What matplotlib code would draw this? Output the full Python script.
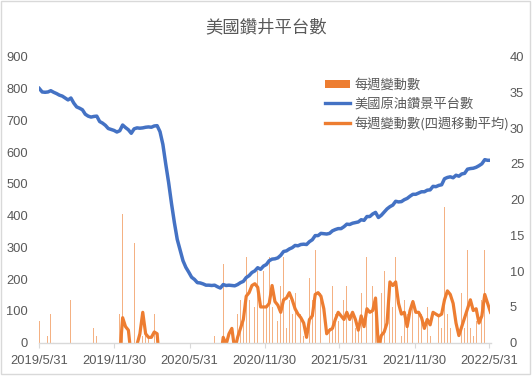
import matplotlib
matplotlib.use('Agg')
import matplotlib.pyplot as plt
import matplotlib.dates as mdates
import numpy as np
from matplotlib.patches import Patch, Rectangle
from matplotlib.lines import Line2D

# ---------------- data ----------------
first_week = '2019-05-31'
n_weeks = 158

rig_count = [800, 789, 788, 789, 793, 788, 784, 779, 776, 770,
             764, 770, 754, 742, 738, 733, 719, 713, 710, 712,
             713, 696, 691, 684, 674, 671, 668, 663, 667, 685,
             677, 670, 659, 673, 676, 675, 676, 678, 679, 678,
             682, 683, 664, 624, 562, 504, 438, 378, 325, 292,
             258, 237, 222, 206, 199, 189, 188, 185, 181, 181,
             180, 181, 176, 172, 183, 180, 181, 180, 179, 183,
             189, 193, 205, 211, 221, 226, 236, 231, 241, 246,
             258, 263, 264, 267, 275, 287, 289, 295, 299, 306,
             305, 309, 310, 309, 318, 324, 337, 337, 344, 343,
             342, 344, 352, 356, 359, 359, 365, 373, 372, 376,
             378, 380, 387, 385, 397, 397, 405, 410, 394, 401,
             411, 421, 428, 433, 445, 443, 444, 450, 454, 461,
             467, 467, 471, 475, 475, 480, 481, 492, 491, 495,
             497, 516, 520, 522, 519, 527, 524, 531, 533, 546,
             548, 549, 552, 557, 563, 576, 574, 574]

weekly_change = [3, -11, -1, 1, 4, -5, -4, -5, -3, -6,
                 -6, 6, -16, -12, -4, -5, -14, -6, -3, 2,
                 1, -17, -5, -7, -10, -3, -3, -5, 4, 18,
                 -8, -7, -11, 14, 3, -1, 1, 2, 1, -1,
                 4, 1, -19, -40, -62, -58, -66, -60, -53, -33,
                 -34, -21, -15, -16, -7, -10, -1, -3, -4, 0,
                 -1, 1, -5, -4, 11, -3, 1, -1, -1, 4,
                 6, 4, 12, 6, 10, 5, 10, -5, 10, 5,
                 12, 5, 1, 3, 8, 12, 2, 6, 4, 7,
                 -1, 4, 1, -1, 9, 6, 13, 0, 7, -1,
                 -1, 2, 8, 4, 3, 0, 6, 8, -1, 4,
                 2, 2, 7, -2, 12, 0, 8, 5, -16, 7,
                 10, 10, 7, 5, 12, -2, 1, 6, 4, 7,
                 6, 0, 4, 4, 0, 5, 1, 11, -1, 4,
                 2, 19, 4, 2, -3, 8, -3, 7, 2, 13,
                 2, 1, 3, 5, 6, 13, -2, 0]

change_ma4 = [-1.25, -4, -3.5, -2, -1.75, -0.25, -1, -2.5, -4.25, -4.5,
              -5, -2.25, -5.5, -7, -6.5, -9.25, -8.75, -7.25, -7, -5.25,
              -1.5, -4.25, -4.75, -7, -9.75, -6.25, -5.75, -5.25, -1.75, 3.5,
              2.25, 1.75, -2, -3, -0.25, 1.25, 4.25, 1.25, 0.75, 0.75,
              1.5, 1.25, -3.75, -13.5, -30, -44.75, -56.5, -61.5, -59.25, -53,
              -45, -35.25, -25.75, -21.5, -14.75, -12, -8.5, -5.25, -4.5, -2,
              -2, -1, -1.25, -2.25, 0.75, -0.25, 1.25, 2, -1, 0.75,
              2, 3.25, 6.5, 7, 8, 8.25, 7.75, 5, 5, 5,
              5.5, 8, 5.75, 5.25, 4.25, 6, 6.25, 7, 6, 4.75,
              4, 3.5, 2.75, 0.75, 3.25, 3.75, 6.75, 7, 6.5, 4.75,
              1.25, 1.75, 2, 3.25, 4.25, 3.75, 3.25, 4.25, 3.25, 4.25,
              3.25, 1.75, 3.75, 2.25, 4.75, 4.25, 4.5, 6.25, -0.75, 1,
              1.5, 2.75, 8.5, 8, 8.5, 5.5, 4, 4.25, 2.25, 4.5,
              5.75, 4.25, 4.25, 3.5, 2, 3.25, 2.5, 4.25, 4, 3.75,
              4, 6, 7.25, 6.75, 5.5, 2.75, 1, 2.25, 3.5, 4.75,
              6, 4.5, 4.75, 2.75, 3.75, 6.75, 5.5, 4.25]

xtick_dates = ['2019-05-31', '2019-11-30', '2020-05-31', '2020-11-30',
               '2021-05-31', '2021-11-30', '2022-05-31']
xtick_labels = ['2019/5/31', '2019/11/30', '2020/5/31', '2020/11/30',
                '2021/5/31', '2021/11/30', '2022/5/31']

title = '美國鑽井平台數'
label_bars = '每週變動數'
label_rigs = '美國原油鑽景平台數'
label_ma = '每週變動數(四週移動平均)'

# ---------------- style ----------------
W, H = 532, 376
DPI = 100
BLUE = '#4472C4'
ORANGE = '#ED7D31'
TXT = '#595959'
AXC = '#D9D9D9'
CJK = ['Noto Sans CJK TC', 'DejaVu Sans']
NUM = ['Liberation Sans', 'DejaVu Sans']

dates = np.datetime64(first_week) + np.arange(n_weeks) * np.timedelta64(7, 'D')
dates = dates.astype('datetime64[D]').astype(object)

fig = plt.figure(figsize=(W / DPI, H / DPI), dpi=DPI)
fig.patch.set_facecolor('white')

left, right = 39.3 / W, 490.5 / W
bottom, top = (H - 342.7) / H, (H - 56.7) / H
ax = fig.add_axes([left, bottom, right - left, top - bottom])
ax2 = ax.twinx()

# bars and moving average on secondary axis
ax2.bar(dates, weekly_change, width=2.2, color=ORANGE, alpha=0.6, linewidth=0)
ax2.plot(dates, change_ma4, color=ORANGE, lw=2.3, solid_joinstyle='round')
# rig count on primary axis (drawn on top)
ax.plot(dates, rig_count, color=BLUE, lw=2.5, solid_joinstyle='round')
ax.set_zorder(ax2.get_zorder() + 1)
ax.patch.set_visible(False)

xmin = np.datetime64('2019-05-31').astype(object)
xmax = np.datetime64('2022-06-03').astype(object)
ax.set_xlim(mdates.date2num(xmin), mdates.date2num(xmax))
ax2.set_xlim(mdates.date2num(xmin), mdates.date2num(xmax))

ax.set_ylim(0, 900)
ax.set_yticks(np.arange(0, 901, 100))
ax2.set_ylim(0, 40)
ax2.set_yticks(np.arange(0, 41, 5))

tick_pos = [mdates.date2num(np.datetime64(d).astype(object)) for d in xtick_dates]
ax.set_xticks(tick_pos)
ax.set_xticklabels(xtick_labels)

for a in (ax, ax2):
    for s in a.spines.values():
        s.set_visible(False)
ax.spines['bottom'].set_visible(True)
ax.spines['bottom'].set_color(AXC)
ax.spines['bottom'].set_linewidth(1.0)

ax.tick_params(axis='x', length=3.5, width=0.8, color=AXC, pad=5,
               labelsize=9.3, labelcolor=TXT)
ax.tick_params(axis='y', length=0, pad=8, labelsize=9.3, labelcolor=TXT)
ax2.tick_params(axis='y', length=0, pad=14, labelsize=9.3, labelcolor=TXT)
ax2.tick_params(axis='x', length=0, labelbottom=False)
for lab in ax.get_xticklabels() + ax.get_yticklabels() + ax2.get_yticklabels():
    lab.set_family(NUM)

fig.text(0.5, 1 - 27 / H, title, ha='center', va='center', fontsize=12.5,
         color=TXT, family=CJK)

handles = [Patch(facecolor=ORANGE, edgecolor='none'),
           Line2D([0], [0], color=BLUE, lw=2.4),
           Line2D([0], [0], color=ORANGE, lw=2.4)]
leg = fig.legend(handles, [label_bars, label_rigs, label_ma],
                 loc='upper left', bbox_to_anchor=(325 / W, 1 - 79 / H),
                 frameon=False, borderpad=0, borderaxespad=0,
                 handlelength=1.9, handleheight=0.55, handletextpad=0.3,
                 labelspacing=0.42, prop={'family': CJK, 'size': 9.5})
for t in leg.get_texts():
    t.set_color(TXT)

fig.patches.append(Rectangle((1 / W, 2 / H), (W - 3) / W, (H - 3) / H,
                             transform=fig.transFigure, fill=False,
                             edgecolor=AXC, lw=1.0))

fig.savefig('out.png', dpi=DPI)
